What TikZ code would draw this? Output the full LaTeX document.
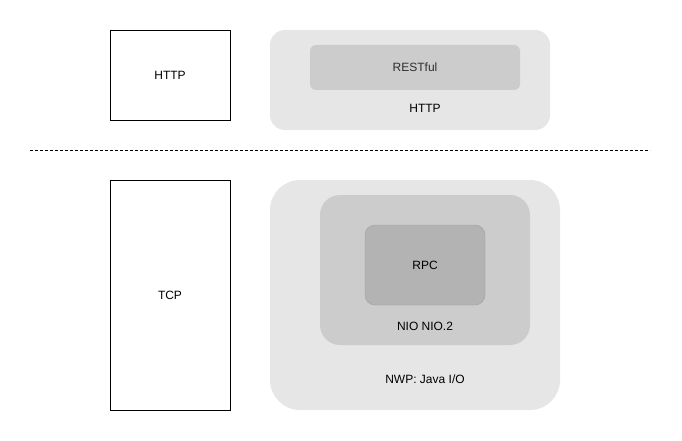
\documentclass[tikz,border=0pt]{standalone}
\usepackage{fontspec}
\setmainfont{Liberation Sans}
\usetikzlibrary{positioning}

\begin{document}
\begin{tikzpicture}[x=1pt, y=-1pt, font=\fontsize{12}{14}\selectfont,
	proto/.style ={draw, line width=0.9pt, fill=white, minimum width=120pt},
	layer/.style ={fill=lgray, rounded corners=15pt},
	inner/.style ={fill=mgray, rounded corners=8pt},
	core/.style ={fill=dgray, draw=edge, rounded corners=10pt, minimum width=120pt, minimum height=80pt}]
	\definecolor{lgray}{HTML}{E6E6E6}
	\definecolor{mgray}{HTML}{CCCCCC}
	\definecolor{dgray}{HTML}{B3B3B3}
	\definecolor{edge}{HTML}{A0A0A0}
	\useasboundingbox (0,0) rectangle (682,441);
	
	% protocols
	\node (http) [proto, minimum height=90pt] at (170,75) {HTTP};
	\node (tcp) [proto, minimum height=230pt] at (170,295) {TCP};
	
	% upper stack
	\node (web) [layer, minimum width=280pt, minimum height=100pt] at (410,80) {};
	\node (rest) [inner, rounded corners=6pt, minimum width=210pt, minimum height=45pt] at (415,67.5) {\textcolor{black!82}{RESTful}};
	\node (weblbl) at (425,108) {HTTP};
	
	\coordinate (cutL) at (30,150);
	\coordinate (cutR) at (650,150);
	\draw [dash pattern=on 3pt off 2pt, line width=0.8pt] (cutL) -- (cutR);
	
	% lower stack
	\node (io) [layer, rounded corners=30pt, minimum width=290pt, minimum height=230pt] at (415,295) {};
	\node (nio) [inner, rounded corners=20pt, minimum width=210pt, minimum height=150pt] at (425,270) {};
	\node (rpc) [core] at (425,265) {RPC};
	\node (niolbl) at (425,326) {NIO NIO.2};
	\node (iolbl) at (425,379) {NWP: Java I/O};
\end{tikzpicture}
\end{document}
